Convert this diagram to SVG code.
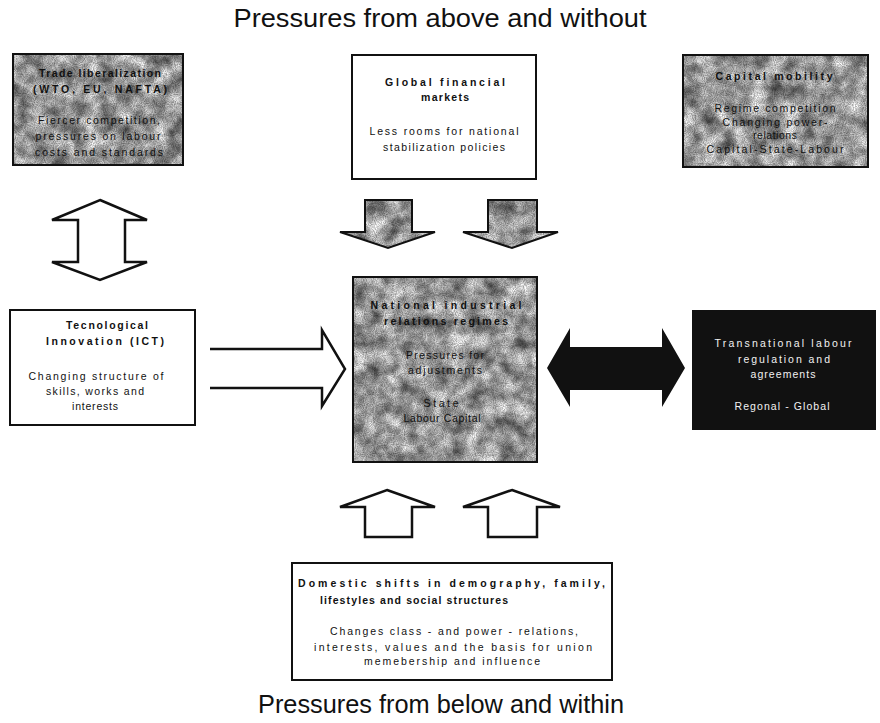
<svg xmlns="http://www.w3.org/2000/svg" width="880" height="723" viewBox="0 0 880 723">
<defs>
  <filter id="grain" x="0" y="0" width="1" height="1" color-interpolation-filters="sRGB">
    <feTurbulence type="fractalNoise" baseFrequency="0.06" numOctaves="3" seed="7" result="n"/>
    <feColorMatrix in="n" type="matrix" values="1.1 0 0 0 0.14  1.1 0 0 0 0.14  1.1 0 0 0 0.14  0 0 0 0 1" result="g"/>
    <feTurbulence type="fractalNoise" baseFrequency="0.9" numOctaves="1" seed="3" result="n2"/>
    <feColorMatrix in="n2" type="matrix" values="0.8 0 0 0 0.45  0.8 0 0 0 0.45  0.8 0 0 0 0.45  0 0 0 0 1" result="g2"/>
    <feBlend in="g" in2="g2" mode="multiply" result="m"/>
    <feComposite in="m" in2="SourceGraphic" operator="in"/>
  </filter>
  <style>
    .title { font-family: "Liberation Sans", Arial, sans-serif; font-size: 26px; fill: #111; text-anchor: middle; }
    .b { font-family: "Liberation Sans", Arial, sans-serif; font-size: 10.5px; font-weight: bold; fill: #111; text-anchor: middle; }
    .r { font-family: "Liberation Sans", Arial, sans-serif; font-size: 10.5px; fill: #111; text-anchor: middle; }
    .w { fill: #f2f2f2; }
    .box { fill: #fff; stroke: #111; stroke-width: 2; }
    .frame { fill: none; stroke: #111; stroke-width: 2; }
    .tex { fill: #999; filter: url(#grain); }
    .open { fill: #fff; stroke: #111; stroke-width: 2.5; stroke-linejoin: miter; }
  </style>
</defs>
<rect width="880" height="723" fill="#fff"/>

<text class="title" x="440" y="27" textLength="413" lengthAdjust="spacingAndGlyphs">Pressures from above and without</text>
<text class="title" x="441" y="713" textLength="366" lengthAdjust="spacingAndGlyphs">Pressures from below and within</text>

<g id="connectors">
  <polygon class="open" points="100,200 147,220 125,220 125,262 147,262 100,280 52,262 78,262 78,220 52,220"/>
  <path class="open" d="M210,349 H322 V330 L345,369 L322,406 V388 H210" fill="none"/>
  <g id="down-arrows">
    <polygon class="tex" points="365,200 412,200 412,232 435,232 388,248 340,232 365,232"/>
    <polygon class="frame" points="365,200 412,200 412,232 435,232 388,248 340,232 365,232"/>
    <polygon class="tex" points="488,200 537,200 537,232 558,232 512,248 463,232 488,232"/>
    <polygon class="frame" points="488,200 537,200 537,232 558,232 512,248 463,232 488,232"/>
  </g>
  <polygon class="open" points="387,490 435,507 412,507 412,537 365,537 365,507 340,507"/>
  <polygon class="open" points="512,490 560,507 537,507 537,537 488,537 488,507 463,507"/>
  <polygon fill="#111" points="547,368 570,328 570,347 662,347 662,328 685,368 662,407 662,390 570,390 570,407"/>
</g>

<g id="trade">
  <rect class="tex" x="13" y="54" width="170" height="111"/>
  <rect class="frame" x="13" y="54" width="170" height="111"/>
  <text class="b" x="100" y="77" textLength="122" lengthAdjust="spacing">Trade liberalization</text>
  <text class="b" x="100" y="93" textLength="134" lengthAdjust="spacing">(WTO, EU, NAFTA)</text>
  <text class="r" x="99" y="124" textLength="122" lengthAdjust="spacing">Fiercer competition,</text>
  <text class="r" x="98" y="140" textLength="125" lengthAdjust="spacing">pressures on labour</text>
  <text class="r" x="99" y="156" textLength="128" lengthAdjust="spacing">costs and standards</text>
</g>

<g id="global">
  <rect class="box" x="352" y="55" width="184" height="124"/>
  <text class="b" x="445" y="86" textLength="120" lengthAdjust="spacing">Global financial</text>
  <text class="b" x="445" y="101" textLength="48" lengthAdjust="spacing">markets</text>
  <text class="r" x="444" y="135" textLength="149" lengthAdjust="spacing">Less rooms for national</text>
  <text class="r" x="444" y="151" textLength="122" lengthAdjust="spacing">stabilization policies</text>
</g>

<g id="capital">
  <rect class="tex" x="683" y="55" width="185" height="112"/>
  <rect class="frame" x="683" y="55" width="185" height="112"/>
  <text class="b" x="774" y="80" textLength="117" lengthAdjust="spacing">Capital mobility</text>
  <text class="r" x="775" y="112" textLength="121" lengthAdjust="spacing">Regime competition</text>
  <text class="r" x="775" y="126" textLength="105" lengthAdjust="spacing">Changing power-</text>
  <text class="r" x="775" y="139" textLength="44" lengthAdjust="spacing">relations</text>
  <text class="r" x="775" y="153" textLength="137" lengthAdjust="spacing">Capital-State-Labour</text>
</g>

<g id="tech">
  <rect class="box" x="10" y="310" width="185" height="115"/>
  <text class="b" x="107" y="329" textLength="82" lengthAdjust="spacing">Tecnological</text>
  <text class="b" x="105" y="345" textLength="118" lengthAdjust="spacing">Innovation  (ICT)</text>
  <text class="r" x="96" y="380" textLength="135" lengthAdjust="spacing">Changing structure of</text>
  <text class="r" x="95" y="395" textLength="98" lengthAdjust="spacing">skills, works and</text>
  <text class="r" x="95" y="410" textLength="46" lengthAdjust="spacing">interests</text>
</g>

<g id="national">
  <rect class="tex" x="353" y="277" width="184" height="185"/>
  <rect class="frame" x="353" y="277" width="184" height="185"/>
  <text class="b" x="446" y="309" textLength="151" lengthAdjust="spacing">National industrial</text>
  <text class="b" x="446" y="325" textLength="124" lengthAdjust="spacing">relations regimes</text>
  <text class="r" x="445" y="359" textLength="78" lengthAdjust="spacing">Pressures for</text>
  <text class="r" x="445" y="374" textLength="74" lengthAdjust="spacing">adjustments</text>
  <text class="r" x="441" y="407" textLength="35" lengthAdjust="spacing">State</text>
  <text class="r" x="442" y="422" textLength="77" lengthAdjust="spacing">Labour Capital</text>
</g>

<g id="transnational">
  <rect x="692" y="310" width="184" height="120" fill="#111"/>
  <text class="r w" x="783" y="347" textLength="137" lengthAdjust="spacing">Transnational labour</text>
  <text class="r w" x="784" y="363" textLength="92" lengthAdjust="spacing">regulation and</text>
  <text class="r w" x="783" y="378" textLength="65" lengthAdjust="spacing">agreements</text>
  <text class="r w" x="782" y="410" textLength="95" lengthAdjust="spacing">Regonal - Global</text>
</g>

<g id="domestic">
  <rect class="box" x="292" y="563" width="320" height="117"/>
  <text class="b" x="298" y="587" textLength="307" lengthAdjust="spacing" style="text-anchor:start">Domestic shifts in demography, family,</text>
  <text class="b" x="320" y="604" textLength="188" lengthAdjust="spacing" style="text-anchor:start">lifestyles and social structures</text>
  <text class="r" x="454" y="635" textLength="248" lengthAdjust="spacing">Changes class - and power - relations,</text>
  <text class="r" x="453" y="651" textLength="278" lengthAdjust="spacing">interests, values and the basis for union</text>
  <text class="r" x="452" y="665" textLength="176" lengthAdjust="spacing">memebership and influence</text>
</g>
</svg>
